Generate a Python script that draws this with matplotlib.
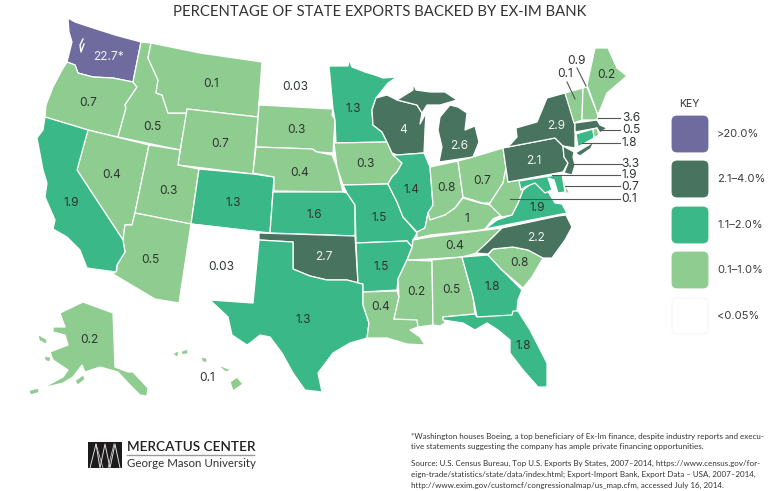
#!/usr/bin/env python
import matplotlib
matplotlib.use('Agg')
import matplotlib.pyplot as plt
from matplotlib.patches import Polygon, FancyBboxPatch

plt.rcParams['font.family'] = ['Inter', 'DejaVu Sans']

# values as printed on the map
states = ['WA', 'OR', 'ID', 'MT', 'WY', 'NV', 'UT', 'CA', 'AZ', 'NM', 'CO', 'ND', 'SD', 'NE', 'KS', 'OK', 'TX',
          'MN', 'IA', 'MO', 'AR', 'LA', 'WI', 'IL', 'MI', 'IN', 'OH', 'KY', 'TN', 'MS', 'AL', 'GA', 'FL', 'SC',
          'NC', 'VA', 'WV', 'PA', 'NY', 'VT', 'NH', 'ME', 'MA', 'RI', 'CT', 'NJ', 'DE', 'MD', 'AK', 'HI']
labels = ['22.7*', '0.7', '0.5', '0.1', '0.7', '0.4', '0.3', '1.9', '0.5', '0.03', '1.3', '0.03', '0.3', '0.4', '1.6', '2.7', '1.3',
          '1.3', '0.3', '1.5', '1.5', '0.4', '4', '1.4', '2.6', '0.8', '0.7', '1', '0.4', '0.2', '0.5', '1.8', '1.8', '0.8',
          '2.2', '1.9', '0.1', '2.1', '2.9', '0.1', '0.9', '0.2', '3.6', '0.5', '1.8', '3.3', '0.7', '1.9', '0.2', '0.1']

key_labels = ['>20.0%', '2.1\u20134.0%', '1.1\u20132.0%', '0.1\u20131.0%', '<0.05%']
key_colors = ['#6f6b9f', '#47735f', '#3bb888', '#8fcc90', '#ffffff']

footnote = ['*Washington houses Boeing, a top beneficiary of Ex-Im finance, despite industry reports and execu-',
            'tive statements suggesting the company has ample private financing opportunities.',
            '',
            'Source: U.S. Census Bureau, Top U.S. Exports By States, 2007\u20132014, https://www.census.gov/for-',
            'eign-trade/statistics/state/data/index.html; Export-Import Bank, Export Data \u2013 USA, 2007\u20132014,',
            'http://www.exim.gov/customcf/congressionalmap/us_map.cfm, accessed July 16, 2014.']

# state outlines
outlines = {
    'WA': [(68,18),(75,22),(90,27),(115,35),(141,42),(133,82),(113,78),(93,77),(78,73),(75,65),(67,62),(70,50),(72,42),(69,32)],
    'OR': [(67,62),(75,65),(78,73),(93,77),(113,78),(133,82),(137,87),(125,105),(126,108),(118,137),(88,130),(45,117),(46,105),(53,87),(62,70)],
    'ID': [(141,42),(151,43),(148,58),(158,80),(156,93),(162,95),(168,113),(187,113),(180,150),(118,137),(126,108),(125,105),(137,87),(133,82)],
    'MT': [(151,43),(200,53),(262,62),(258,117),(187,109),(187,113),(168,113),(162,95),(156,93),(158,80),(148,58)],
    'WY': [(187,109),(258,117),(253,174),(178,165)],
    'NV': [(88,130),(149,145),(135,213),(132,225),(125,225),(123,240),(77,170)],
    'UT': [(149,145),(180,150),(178,165),(199,169),(191,224),(135,213)],
    'CO': [(199,169),(253,174),(274,177),(270,233),(191,224)],
    'NM': [(191,224),(260,232),(253,303),(210,300),(192,303),(179,303)],
    'AZ': [(135,213),(191,224),(179,303),(155,299),(113,274),(117,270),(117,265),(125,252),(123,240),(125,225),(132,225)],
    'CA': [(45,117),(88,130),(77,170),(123,240),(125,252),(117,265),(116,272),(87,268),(80,250),(67,237),(53,229),(55,220),(45,197),(47,183),(43,170),(37,138),(43,130)],
    'ND': [(263,62),(329,66),(333,109),(259,105)],
    'SD': [(259,105),(333,109),(332,115),(335,120),(333,153),(317,152),(312,149),(256,147)],
    'NE': [(256,147),(312,149),(317,152),(332,155),(337,167),(343,192),(274,191),(274,177),(253,173)],
    'KS': [(273,192),(343,192),(347,193),(355,205),(355,236),(270,233)],
    'OK': [(259,233),(355,236),(358,283),(347,280),(327,280),(310,276),(293,269),(293,242),(259,240)],
    'TX': [(259,240),(293,242),(293,269),(310,276),(327,280),(347,280),(363,284),(363,305),(369,323),(367,338),(350,343),(333,353),(318,373),(322,392),(305,390),(293,373),(282,353),(270,337),(260,335),(250,343),(247,345),(232,335),(228,317),(210,300),(253,303)],
    'MN': [(329,66),(348,66),(349,60),(352,67),(365,72),(375,75),(383,78),(397,77),(388,83),(376,98),(372,110),(373,125),(382,132),(387,142),(336,143),(335,120),(333,109)],
    'IA': [(334,143),(387,142),(393,155),(402,163),(397,172),(392,177),(388,184),(343,185),(337,167)],
    'MO': [(343,185),(388,184),(397,202),(403,217),(417,233),(413,240),(412,247),(407,241),(356,243),(355,205),(347,193)],
    'AR': [(356,243),(407,241),(412,247),(407,260),(398,279),(397,290),(363,292),(363,284),(358,283)],
    'LA': [(363,292),(397,291),(399,297),(394,319),(417,319),(418,327),(410,330),(420,337),(425,345),(407,344),(387,338),(367,338),(369,323),(363,305)],
    'WI': [(376,98),(387,95),(397,100),(417,105),(422,113),(420,124),(426,113),(425,130),(424,153),(397,155),(392,153),(387,142),(382,132),(373,125),(372,110)],
    'MI1': [(397,100),(413,90),(413,83),(416,90),(430,92),(445,92),(457,100),(440,105),(427,105),(422,113),(417,105)],
    'MI2': [(440,117),(450,105),(458,107),(467,113),(465,130),(475,126),(479,142),(473,157),(439,162),(442,147),(438,130)],
    'IL': [(397,155),(424,153),(430,167),(433,205),(428,213),(425,228),(417,232),(403,217),(397,202),(388,184),(392,177),(397,172),(402,163),(393,155)],
    'IN': [(430,167),(458,161),(463,197),(455,208),(445,215),(430,220),(428,213),(433,205)],
    'OH': [(458,161),(473,157),(503,148),(506,168),(503,183),(490,203),(482,203),(473,200),(463,197)],
    'KY': [(417,238),(430,235),(480,230),(485,229),(493,219),(504,214),(490,205),(480,203),(463,198),(455,208),(445,215),(430,220),(428,213),(425,228),(417,232)],
    'TN': [(413,240),(430,237),(502,228),(493,237),(477,253),(462,257),(430,259),(407,260),(412,248)],
    'MS': [(407,260),(432,261),(433,325),(418,327),(417,320),(394,319),(399,297),(398,279)],
    'AL': [(432,260),(462,257),(473,297),(475,314),(443,317),(445,323),(440,326),(433,325)],
    'GA': [(462,257),(488,255),(502,270),(522,290),(518,300),(517,310),(512,317),(477,317),(473,297)],
    'FL': [(443,317),(475,314),(477,317),(512,315),(513,311),(518,311),(530,330),(547,363),(547,387),(538,387),(523,370),(510,353),(510,340),(498,330),(487,323),(475,330),(463,323),(443,320)],
    'SC': [(488,255),(493,249),(513,247),(528,250),(543,258),(532,277),(523,288),(502,270)],
    'NC': [(502,228),(558,216),(566,215),(572,227),(565,240),(552,258),(543,258),(528,250),(513,247),(493,249),(488,254),(476,253),(493,237)],
    'VA': [(485,229),(497,220),(512,215),(518,203),(523,190),(533,182),(547,190),(555,203),(562,204),(567,213)],
    'WV': [(506,168),(508,182),(519,180),(520,185),(527,180),(534,177),(533,182),(523,190),(518,203),(512,215),(502,217),(490,205),(490,203),(503,183)],
    'PA': [(503,148),(508,147),(555,138),(563,146),(564,157),(568,163),(563,172),(508,182)],
    'NY': [(508,147),(517,137),(516,128),(537,122),(547,98),(565,93),(575,122),(575,148),(563,146),(555,138)],
    'NY2': [(577,153),(592,144),(590,148),(580,155)],
    'VT': [(565,93),(583,88),(582,120),(574,123)],
    'NH': [(583,88),(587,87),(598,115),(597,120),(582,120)],
    'ME': [(587,85),(592,62),(595,48),(608,48),(617,68),(627,76),(607,93),(598,115)],
    'MA': [(575,123),(597,120),(600,125),(607,128),(600,133),(597,128),(575,132)],
    'CT': [(576,134),(593,129),(594,138),(578,147)],
    'RI': [(593,129),(597,128),(599,135),(594,138)],
    'NJ': [(563,146),(574,152),(573,157),(575,165),(572,175),(564,173),(568,163),(564,157)],
    'DE': [(562,175),(566,187),(570,193),(563,193)],
    'MD': [(519,181),(562,174),(565,192),(558,193),(554,180),(548,178),(552,190),(545,193),(535,183),(525,187),(521,190)],
    'AK': [(60,313),(83,302),(113,313),(115,367),(128,372),(133,372),(148,388),(147,396),(140,395),(128,383),(118,372),(100,367),(85,372),(82,365),(73,377),(63,383),(43,388),(63,377),(68,370),(53,360),(50,352),(68,345),(65,335),(53,332),(53,327),(65,327)],
    'AK2': [(39,336),(46,340),(46,343),(40,340)],
    'AK3': [(76,381),(83,376),(84,379),(78,384)],
    'AK4': [(30,391),(38,389),(38,392),(31,394)],
    'AK5': [(45,357),(50,358),(49,361),(46,360)],
    'HI': [(230,382),(237,377),(243,384),(233,391)],
    'HI2': [(174,354),(178,352),(177,356)],
    'HI3': [(182,352),(187,350),(187,353),(183,354)],
    'HI4': [(202,358),(206,359),(206,362),(203,361)],
    'HI5': [(221,367),(229,370),(226,371)],
}

# where each number sits on the map
label_pos = {
    'WA': (109,57), 'OR': (88,103), 'ID': (152,127), 'MT': (211,84), 'WY': (220,144), 'NV': (112,175), 'UT': (168,191),
    'CA': (71,203), 'AZ': (150,260), 'NM': (221,267), 'CO': (233,203), 'ND': (295,87), 'SD': (296,130), 'NE': (300,173),
    'KS': (314,215), 'OK': (324,257), 'TX': (303,320), 'MN': (353,109), 'IA': (365,164), 'MO': (379,218), 'AR': (381,267),
    'LA': (381,307), 'WI': (403,130), 'IL': (412,190), 'MI': (459,146), 'IN': (446,188), 'OH': (482,181), 'KY': (467,219),
    'TN': (455,246), 'MS': (416,292), 'AL': (451,290), 'GA': (492,287), 'FL': (523,346), 'SC': (519,263), 'NC': (536,238),
    'VA': (537,208), 'PA': (534,161), 'NY': (556,126), 'ME': (606,75), 'AK': (89,340), 'HI': (207,378),
    'VT': (565,74), 'NH': (577,61), 'MA': (631,118), 'RI': (631,130), 'CT': (629,143), 'NJ': (630,164), 'MD': (629,175),
    'DE': (630,187), 'WV': (629,199),
}
leaders = {
    'VT': ((567,82),(575,99)), 'NH': ((577,68),(586,86)), 'MA': ((598,118),(620,118)), 'RI': ((600,130),(620,130)),
    'CT': ((582,143),(620,143)), 'NJ': ((573,164),(622,164)), 'MD': ((552,175),(620,175)), 'DE': ((565,186),(620,186)),
    'WV': ((510,199),(620,199)),
}


def state_color(label):
    val = float(label.rstrip('*'))
    if val > 20:
        return key_colors[0]
    if val > 2:
        return key_colors[1]
    if val > 1:
        return key_colors[2]
    if val >= 0.1:
        return key_colors[3]
    return key_colors[4]


value_of = dict(zip(states, labels))

fig = plt.figure(figsize=(7.68, 4.91), dpi=100)
ax = fig.add_axes([0, 0, 1, 1])
ax.set_xlim(0, 768)
ax.set_ylim(491, 0)
ax.axis('off')

for name, pts in outlines.items():
    color = state_color(value_of[name[:2]])
    island = name[:2] in ('AK', 'HI') and len(name) > 2 or name == 'NY2'
    ax.add_patch(Polygon(pts, closed=True, facecolor=color, edgecolor=color if island else 'white',
                         linewidth=0.3 if island else 0.9, joinstyle='round', zorder=2))

# puget sound, delaware bay notch
ax.plot([83,80,81,84], [39,45,52,44], color='white', lw=1.0, zorder=3)
ax.plot([565,566], [185,200], color='white', lw=1.0, zorder=3)

text_color = '#2f3532'
for name, (x, y) in label_pos.items():
    lab = value_of[name]
    inside = name not in leaders
    col = text_color
    if inside and state_color(lab) in (key_colors[0], key_colors[1]):
        col = '#f0f2f0'
    ax.text(x, y, lab, ha='center', va='center', fontsize=8.6, color=col, zorder=5)

for name, (a, b) in leaders.items():
    ax.plot([a[0], b[0]], [a[1], b[1]], color='#555555', lw=0.8, zorder=4)

ax.text(380, 12, 'PERCENTAGE OF STATE EXPORTS BACKED BY EX-IM BANK', ha='center', va='center',
        fontsize=10.7, color='#333333', family='Lato')

# key
ax.text(689, 104, 'KEY', ha='center', va='center', fontsize=7.6, color='#333333')
key_tops = [116, 161, 207, 252, 298]
for top, col, lab in zip(key_tops, key_colors, key_labels):
    ec = '#f4f4f4' if col == '#ffffff' else col
    ax.add_patch(FancyBboxPatch((675, top + 3), 30, 30, boxstyle='round,pad=3,rounding_size=5',
                                facecolor=col, edgecolor=ec, linewidth=0.6, zorder=2))
    ax.text(717, top + 18, lab, ha='left', va='center', fontsize=8.0, color='#3a3a3a')

# logo
ax.add_patch(Polygon([(88,442),(122,442),(122,468),(88,468)], closed=True, facecolor='#1c1a1b', edgecolor='none'))
ax.plot([90,96,100,105,110,115,120], [468,444,468,444,468,444,468], color='#dddddd', lw=0.7, zorder=3)
ax.plot([96,103], [444,468], color='#dddddd', lw=0.5, zorder=3)
ax.plot([108,114], [468,444], color='#dddddd', lw=0.5, zorder=3)
ax.text(127, 447, 'MERCATUS CENTER', ha='left', va='center', fontsize=9.8, color='#222222', family='Lato', fontweight='semibold')
ax.plot([127,254], [455,455], color='#999999', lw=1.0)
ax.text(127, 463.5, 'George Mason University', ha='left', va='center', fontsize=8.3, color='#333333', family='Lato')

# notes
note_y = [436, 446.5, None, 463.5, 474.5, 485]
for line, y in zip(footnote, note_y):
    if y is not None:
        ax.text(411, y, line, ha='left', va='center', fontsize=5.8, color='#333333', family='Lato')

fig.savefig('out.png', dpi=100)
